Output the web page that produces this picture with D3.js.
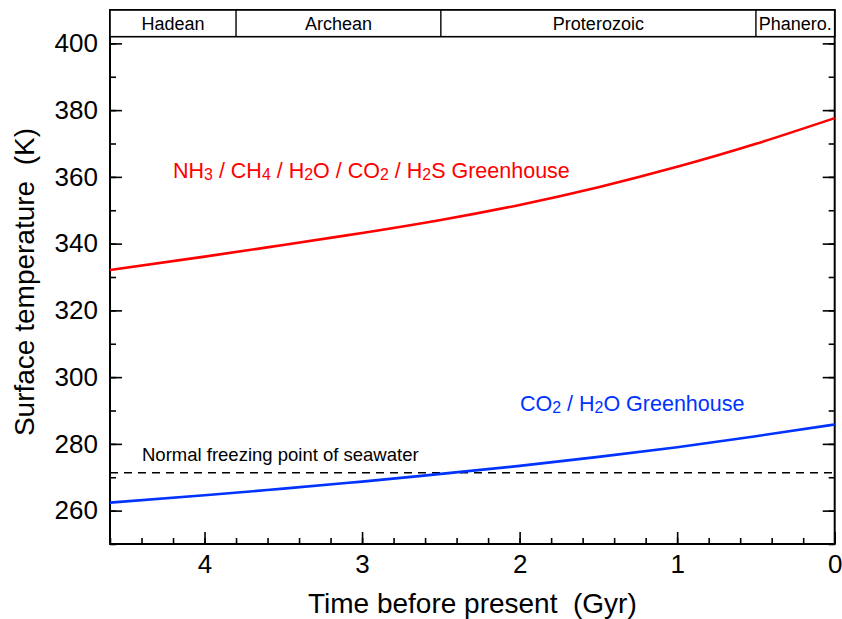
<!DOCTYPE html>
<html><head><meta charset="utf-8">
<script src="https://cdn.jsdelivr.net/npm/d3@7"></script>
<style>body{margin:0;background:#fff}svg{font-family:"Liberation Sans",Arial,Helvetica,sans-serif}text{white-space:pre}</style>
</head><body><svg id="c" width="842" height="619"></svg>
<script>
// ---- data ----
const ages     = [4.6, 4.0, 3.5, 3.0, 2.5, 2.0, 1.5, 1.0, 0.5, 0.0];
const tempNH3  = [332.1, 336.1, 339.6, 343.2, 347.1, 351.6, 356.9, 363.0, 369.9, 377.6];
const tempCO2  = [262.4, 264.6, 266.6, 268.7, 271.0, 273.4, 276.1, 279.0, 282.3, 285.8];
const freezingPoint = 271.35;
const eonNames  = ["Hadean", "Archean", "Proterozoic", "Phanero."];
const eonBounds = [4.6, 3.8, 2.5, 0.5, 0.0];
const xMajorTicks = [4, 3, 2, 1, 0];
const xMinorTicks = d3.range(0, 4.61, 0.2).map(v => +v.toFixed(1));
const yMajorTicks = [260, 280, 300, 320, 340, 360, 380, 400];
const yMinorTicks = d3.range(250, 411, 10);

const svg = d3.select("#c");
const L = 110, R = 834.7, T = 10, B = 544;
const x = d3.scaleLinear().domain([4.6, 0]).range([L, R]);
const y = d3.scaleLinear().domain([250, 410]).range([B, T]);

// axes
function styleAxis(g){ g.select(".domain").remove(); g.selectAll("line").attr("stroke","#000").attr("stroke-width",1.6); g.selectAll("text").attr("fill","#000").style("font-family",'"Liberation Sans",Arial,sans-serif'); }
svg.append("g").attr("transform",`translate(0,${B})`)
  .call(d3.axisBottom(x).tickValues(xMinorTicks).tickSize(-6).tickFormat("")).call(styleAxis);
svg.append("g").attr("transform",`translate(0,${B})`)
  .call(d3.axisBottom(x).tickValues(xMajorTicks).tickSize(-12).tickPadding(11).tickFormat(d3.format("d")))
  .call(styleAxis).selectAll("text").attr("font-size",26);
svg.append("g").attr("transform",`translate(${L},0)`)
  .call(d3.axisLeft(y).tickValues(yMinorTicks).tickSize(-6).tickFormat("")).call(styleAxis);
svg.append("g").attr("transform",`translate(${L},0)`)
  .call(d3.axisLeft(y).tickValues(yMajorTicks).tickSize(-12).tickPadding(12).tickFormat(d3.format("d")))
  .call(styleAxis).selectAll("text").attr("font-size",26);
svg.append("g").attr("transform",`translate(${R},0)`)
  .call(d3.axisRight(y).tickValues(yMinorTicks).tickSize(-6).tickFormat("")).call(styleAxis);
svg.append("g").attr("transform",`translate(${R},0)`)
  .call(d3.axisRight(y).tickValues(yMajorTicks).tickSize(-12).tickFormat("")).call(styleAxis);

// frame
svg.append("rect").attr("x",L).attr("y",T).attr("width",R-L).attr("height",B-T)
  .attr("fill","none").attr("stroke","#000").attr("stroke-width",2);

// eon bar
const eonTop = y(410), eonBot = y(402);
const eg = svg.append("g");
eg.append("rect").attr("x",L).attr("y",eonTop).attr("width",R-L).attr("height",eonBot-eonTop)
  .attr("fill","#fff").attr("stroke","#000").attr("stroke-width",1.6);
eonBounds.slice(1,-1).forEach(b => eg.append("line").attr("x1",x(b)).attr("x2",x(b))
  .attr("y1",eonTop).attr("y2",eonBot).attr("stroke","#000").attr("stroke-width",1.4));
eonNames.forEach((n,i) => eg.append("text")
  .attr("x",(x(eonBounds[i])+x(eonBounds[i+1]))/2).attr("y",(eonTop+eonBot)/2+6.5)
  .attr("text-anchor","middle").attr("font-size",18).text(n));

// freezing line
svg.append("line").attr("x1",L).attr("x2",R).attr("y1",y(freezingPoint)).attr("y2",y(freezingPoint))
  .attr("stroke","#000").attr("stroke-width",1.4).attr("stroke-dasharray","8,6");
svg.append("text").attr("x",142).attr("y",461).attr("font-size",18.5).text("Normal freezing point of seawater");

// curves
const line = d3.line().x((d,i)=>x(ages[i])).y(d=>y(d)).curve(d3.curveNatural);
svg.append("path").attr("d",line(tempNH3)).attr("fill","none").attr("stroke","#ff0000").attr("stroke-width",2.6);
svg.append("path").attr("d",line(tempCO2)).attr("fill","none").attr("stroke","#0033ff").attr("stroke-width",2.6);

// labels with subscripts
function subText(xp, yp, parts, color, size){
  const t = svg.append("text").attr("x",xp).attr("y",yp).attr("font-size",size).attr("fill",color);
  parts.forEach(p => {
    if (typeof p === "string") t.append("tspan").text(p);
    else t.append("tspan").attr("font-size",size*0.74).attr("baseline-shift","-15%").text(p.sub);
  });
  return t;
}
subText(173, 178, ["NH",{sub:"3"}," / CH",{sub:"4"}," / H",{sub:"2"},"O / CO",{sub:"2"}," / H",{sub:"2"},"S Greenhouse"], "#ff0000", 21.5);
subText(520, 411, ["CO",{sub:"2"}," / H",{sub:"2"},"O Greenhouse"], "#0033ff", 21.5);

// axis titles
svg.append("text").attr("x",(L+R)/2).attr("y",613).attr("text-anchor","middle").attr("font-size",28)
  .text("Time before present  (Gyr)");
svg.append("text").attr("transform",`translate(34,282) rotate(-90)`).attr("text-anchor","middle")
  .attr("font-size",28).text("Surface temperature  (K)");
</script></body></html>
